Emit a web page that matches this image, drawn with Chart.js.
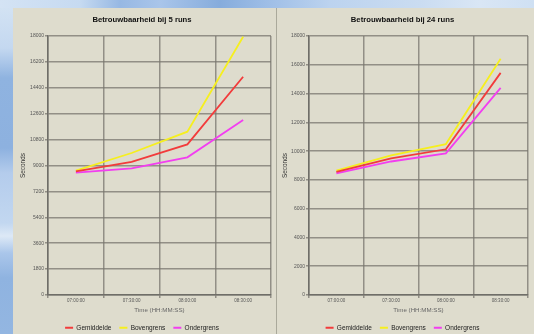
<!DOCTYPE html>
<html>
<head>
<meta charset="utf-8">
<script src="https://cdn.jsdelivr.net/npm/chart.js@4.4.1/dist/chart.umd.min.js"></script>
<style>
  html, body { margin: 0; padding: 0; width: 534px; height: 334px; overflow: hidden; }
  body { position: relative; background: #8fb3e0; }
  #stripTop { position: absolute; left: 0; top: 0; width: 534px; height: 8px;
    background: linear-gradient(to right, #d4e3f4 0px, #c6daf1 80px, #97b8e3 120px, #a9c5ea 160px, #86acdc 220px, #9dbde6 265px, #bcd3ef 330px, #cadcf1 420px, #d9e6f5 480px, #cfe0f3 534px); }
  #stripLeft { position: absolute; left: 0; top: 8px; width: 13px; height: 326px;
    background: linear-gradient(to bottom, #d2e2f3 0px, #c4d8f0 40px, #8fb3e0 70px, #8db1df 140px, #b4ccec 165px, #c2d7f0 215px, #dde9f6 228px, #aac6ea 245px, #8fb3e0 270px, #93b6e1 326px); }
  .panel { position: absolute; top: 8px; height: 326px; background: #dedccd; overflow: hidden; }
  #p1 { left: 13px; width: 263px; }
  #p2 { left: 277px; width: 257px; }
  #sep { position: absolute; left: 276px; top: 8px; width: 1px; height: 326px; background: #aaa99b; }
  canvas { position: absolute; left: 0; top: 0; }
</style>
</head>
<body>
<div id="stripTop"></div>
<div id="stripLeft"></div>
<div class="panel" id="p1"><canvas id="c1" width="263" height="333"></canvas></div>
<div id="sep"></div>
<div class="panel" id="p2"><canvas id="c2" width="257" height="333"></canvas></div>

<script>
// Time of day on the x axis
const categories = ['07:00:00', '07:30:00', '08:00:00', '08:30:00'];

// Series names
const seriesNames = ['Gemiddelde', 'Bovengrens', 'Ondergrens'];

// Reliability with 5 runs (seconds)
const gemiddelde5 = [8600, 9260, 10470, 15170];
const bovengrens5 = [8650, 9870, 11350, 17950];
const ondergrens5 = [8500, 8800, 9570, 12160];

// Reliability with 24 runs (seconds)
const gemiddelde24 = [8550, 9500, 10130, 15440];
const bovengrens24 = [8650, 9700, 10490, 16420];
const ondergrens24 = [8450, 9280, 9850, 14400];

// Y-axis tick values
const yTicks5 = [0, 1800, 3600, 5400, 7200, 9000, 10800, 12600, 14400, 16200, 18000];
const yTicks24 = [0, 2000, 4000, 6000, 8000, 10000, 12000, 14000, 16000, 18000];

const FONT = 'Liberation Sans, Arial, sans-serif';
const seriesColors = ['#f23b3b', '#f6ef1e', '#f23ef0'];
const gridColor = 'rgba(120,118,110,0.75)';
const axisColor = '#6f6e68';

function buildChart(canvasId, titleText, seriesData, yTicks, geo) {
  const datasets = seriesData.map((values, i) => ({
    label: seriesNames[i],
    data: values,
    borderColor: seriesColors[i],
    backgroundColor: seriesColors[i],
    borderWidth: 1.8,
    pointRadius: 0,
    tension: 0,
    fill: false
  }));

  return new Chart(document.getElementById(canvasId), {
    type: 'line',
    data: { labels: categories, datasets },
    options: {
      responsive: false,
      animation: false,
      devicePixelRatio: 1,
      layout: { padding: { left: 0, right: geo.padRight, top: 0, bottom: 0 } },
      plugins: {
        title: {
          display: true,
          text: titleText,
          color: '#111',
          font: { family: FONT, size: 7.7, weight: 'bold' },
          padding: { top: 7.4, bottom: 11.4 }
        },
        legend: {
          position: 'bottom',
          labels: {
            boxWidth: 8,
            boxHeight: 2,
            padding: 8,
            color: '#1b1b1b',
            font: { family: FONT, size: 6.5 },
            generateLabels: chart =>
              Chart.defaults.plugins.legend.labels.generateLabels(chart)
                .map(item => Object.assign(item, { lineWidth: 0 }))
          }
        },
        tooltip: { enabled: false }
      },
      scales: {
        x: {
          offset: true,
          grid: { offset: true, color: gridColor, lineWidth: 1.5, tickLength: 3 },
          border: { color: axisColor, width: 1.5 },
          ticks: { color: '#555', font: { family: FONT, size: 4.5 }, padding: 0, maxRotation: 0, autoSkip: false },
          title: {
            display: true,
            text: 'Time (HH:MM:SS)',
            color: '#666',
            font: { family: FONT, size: 6.2 },
            padding: { top: 0, bottom: 2.8 }
          },
          afterFit: scale => { scale.height = 21.5; }
        },
        y: {
          min: 0,
          max: 18000,
          afterBuildTicks: scale => { scale.ticks = yTicks.map(v => ({ value: v })); },
          grid: { color: gridColor, lineWidth: 1.5, tickLength: 3 },
          border: { color: axisColor, width: 1.5 },
          ticks: { color: '#555', font: { family: FONT, size: 5 }, padding: 1, callback: v => String(v) },
          title: {
            display: true,
            text: 'Seconds',
            color: '#333',
            font: { family: FONT, size: 6.4 },
            padding: { top: geo.yTitlePad, bottom: 0 }
          },
          afterFit: scale => { scale.width = geo.axisW; }
        }
      }
    }
  });
}

buildChart('c1', 'Betrouwbaarheid bij 5 runs',
  [gemiddelde5, bovengrens5, ondergrens5], yTicks5,
  { padRight: 5, axisW: 35, yTitlePad: 6.2 });

buildChart('c2', 'Betrouwbaarheid bij 24 runs',
  [gemiddelde24, bovengrens24, ondergrens24], yTicks24,
  { padRight: 6, axisW: 32, yTitlePad: 3.9 });
</script>
</body>
</html>
